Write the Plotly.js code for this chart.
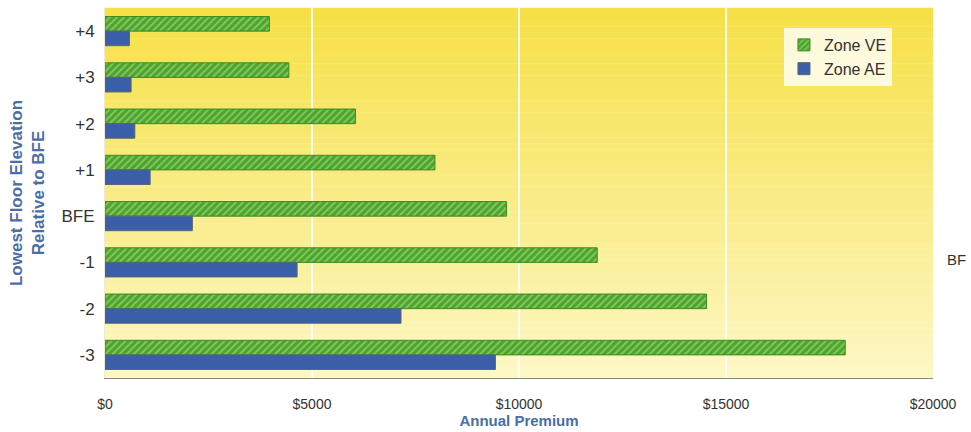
<!DOCTYPE html>
<html>
<head>
<meta charset="utf-8">
<script src="https://cdn.plot.ly/plotly-3.0.1.min.js"></script>
<style>html,body{margin:0;padding:0;background:#fff;}#chart{width:971px;height:432px;}</style>
</head>
<body>
<div id="chart"></div>
<script>
const categories = ['+4', '+3', '+2', '+1', 'BFE', '-1', '-2', '-3'];
const zoneVE = [3970, 4440, 6050, 7970, 9700, 11890, 14530, 17880];
const zoneAE = [590, 630, 720, 1090, 2110, 4640, 7150, 9430];
const xTickVals = [0, 5000, 10000, 15000, 20000];
const xTickText = ['$0', '$5000', '$10000', '$15000', '$20000'];

// vertical gradient background for plot area
const bgShapes = [];
const NSTRIPS = 60;
const gradTop = [246, 224, 70], gradBot = [253, 247, 196];
for (let i = 0; i < NSTRIPS; i++) {
  const t = i / (NSTRIPS - 1);
  const c = gradTop.map((v, k) => Math.round(v + (gradBot[k] - v) * t));
  bgShapes.push({
    type: 'rect', xref: 'paper', yref: 'paper', layer: 'below',
    x0: 0, x1: 1, y0: 1 - (i + 1) / NSTRIPS, y1: 1 - i / NSTRIPS + 0.001,
    fillcolor: `rgb(${c[0]},${c[1]},${c[2]})`, line: {width: 0}
  });
}

const traces = [
  {
    type: 'bar', orientation: 'h', name: 'Zone VE',
    y: categories, x: zoneVE,
    marker: {
      color: '#4ea42e',
      line: {color: '#3c8a22', width: 1},
      pattern: {shape: '/', bgcolor: '#4ea42e', fgcolor: '#bdee94', size: 5, solidity: 0.35, fillmode: 'overlay'}
    }
  },
  {
    type: 'bar', orientation: 'h', name: 'Zone AE',
    y: categories, x: zoneAE,
    marker: {color: '#3a5ea8', line: {color: '#55657a', width: 1}}
  }
];

const layout = {
  width: 971, height: 432,
  margin: {l: 105, r: 38, t: 8, b: 54},
  paper_bgcolor: '#ffffff',
  plot_bgcolor: 'rgba(0,0,0,0)',
  barmode: 'group', bargap: 0.37, bargroupgap: 0,
  font: {family: 'Liberation Sans, Arial, sans-serif', color: '#333333'},
  shapes: bgShapes,
  showlegend: true,
  legend: {
    x: 0.82, y: 0.946, xanchor: 'left', yanchor: 'top',
    bgcolor: 'rgba(255,255,255,0.8)', borderwidth: 0,
    font: {size: 16, color: '#333333'},
    itemwidth: 30, tracegroupgap: 0
  },
  xaxis: {
    range: [0, 20000], tickmode: 'array', tickvals: xTickVals, ticktext: xTickText,
    showgrid: true, gridcolor: 'rgba(255,255,255,0.9)', gridwidth: 2,
    zeroline: false, showline: true, linecolor: '#8a8a7a', linewidth: 1,
    ticks: '', ticklabelstandoff: 13,
    tickfont: {size: 14, color: '#333333'},
    title: {text: '<b>Annual Premium</b>', font: {size: 15, color: '#4a6ea8'}, standoff: 0}
  },
  yaxis: {
    type: 'category', categoryorder: 'array', categoryarray: categories,
    autorange: 'reversed',
    showgrid: false, zeroline: false, showline: true, linecolor: '#f0ead0', linewidth: 1,
    ticks: '', ticklabelstandoff: 6,
    tickfont: {size: 17, color: '#333333'},
    title: {text: '<b>Lowest Floor Elevation<br>Relative to BFE</b>', font: {size: 17, color: '#4a6ea8'}, standoff: 12}
  },
  annotations: [
    {xref: 'paper', yref: 'paper', x: 1.042, y: 0.32, xanchor: 'right', yanchor: 'middle',
     text: 'BF', showarrow: false, font: {size: 15, color: '#333333'}}
  ]
};

Plotly.newPlot('chart', traces, layout, {displayModeBar: false, staticPlot: true});
</script>
</body>
</html>
